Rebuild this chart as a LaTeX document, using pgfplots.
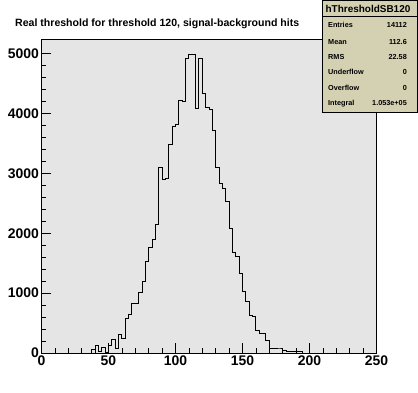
\documentclass[border=0pt]{standalone}
\usepackage{fontspec}
\setmainfont{Liberation Sans}
\usepackage{pgfplots}
\pgfplotsset{compat=1.18}
\definecolor{framegray}{RGB}{229,229,229}
\definecolor{statsfill}{RGB}{212,208,178}
\pgfplotstableread{
x y
0 0
2.5 0
5 0
7.5 0
10 0
12.5 0
15 0
17.5 0
20 0
22.5 0
25 0
27.5 0
30 0
32.5 0
35 0
37.5 60
40 130
42.5 20
45 95
47.5 10
50 117
52.5 228
55 72
57.5 317
60 245
62.5 579
65 646
67.5 830
70 830
72.5 1013
75 1200
77.5 1531
80 1765
82.5 1899
85 2149
87.5 3101
90 2900
92.5 2920
95 3485
97.5 3786
100 3819
102.5 4220
105 4203
107.5 4921
110 4988
112.5 4988
115 4086
117.5 4921
120 4337
122.5 4103
125 4070
127.5 3707
130 3104
132.5 2834
135 2750
137.5 2533
140 2082
142.5 1680
145 1615
147.5 1331
150 1030
152.5 863
155 629
157.5 607
160 384
162.5 329
165 329
167.5 215
170 70
172.5 78
175 67
177.5 67
180 50
182.5 22
185 22
187.5 22
190 22
192.5 22
195 0
197.5 0
200 0
250 0
}\hist
\begin{document}
\begin{tikzpicture}[x=1bp,y=1bp]
\useasboundingbox (0,0) rectangle (418,393);
\begin{axis}[at={(41.5bp,40bp)}, anchor=south west, scale only axis,
  width=335bp, height=313bp,
  xmin=0, xmax=250, ymin=0, ymax=5226,
  axis background/.style={fill=framegray},
  axis line style={line width=1bp},
  xtick={0,50,...,250}, ytick={0,1000,...,5000},
  minor x tick num=4, minor y tick num=4,
  tick align=inside, xtick pos=bottom, ytick pos=left,
  major tick length=9.5bp, minor tick length=4.5bp,
  tick style={black, line width=0.8bp},
  scaled y ticks=false,
  /pgf/number format/assume math mode=true,
  /pgf/number format/1000 sep={},
  tick label style={font=\fontsize{14}{14}\selectfont\bfseries},
  yticklabel style={xshift=1bp},
  xticklabel style={yshift=1bp},
]
\addplot[const plot mark left, black, line width=1bp, mark=none] table {\hist};
\end{axis}
\node[anchor=base west, font=\fontsize{10.6}{10.6}\selectfont\bfseries, inner sep=0] at (15,367) {Real threshold for threshold 120, signal-background hits};
\draw[fill=statsfill, line width=1bp] (322,280) rectangle (417.5,392.5);
\draw[line width=0.8bp] (322,376.3) -- (417.5,376.3);
\node[font=\fontsize{10}{10}\selectfont\bfseries, inner sep=0] at (368,384.5) {hThresholdSB120};
\foreach \yy/\lab/\val in {368/Entries/14112, 351.3/Mean/112.6, 336.3/RMS/22.58, 321.3/Underflow/0, 304.7/Overflow/0, 289.7/Integral/1.053e+05}{
  \node[anchor=west, font=\fontsize{7.3}{7.3}\selectfont\bfseries, inner sep=0] at (328,\yy) {\lab};
  \node[anchor=east, font=\fontsize{7.3}{7.3}\selectfont\bfseries, inner sep=0] at (407,\yy) {\val};
}
\end{tikzpicture}
\end{document}
